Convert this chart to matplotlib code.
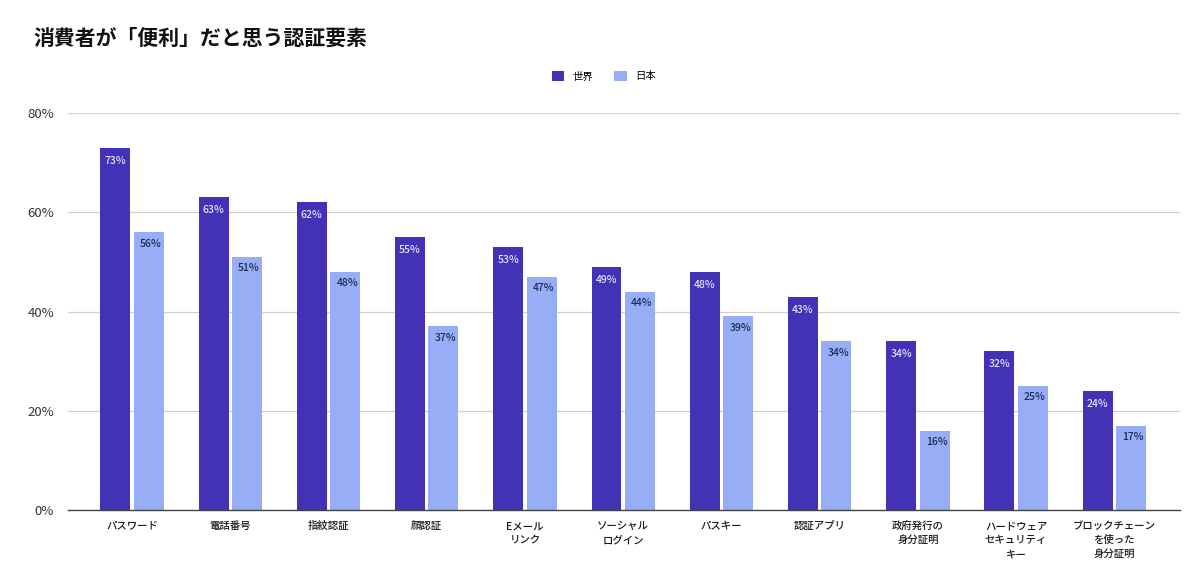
import numpy as np
import matplotlib.pyplot as plt

plt.rcParams['font.family'] = ['Noto Sans CJK JP', 'DejaVu Sans']

# データ
categories = ["パスワード", "電話番号", "指紋認証", "顔認証", "Eメール\nリンク",
              "ソーシャル\nログイン", "パスキー", "認証アプリ", "政府発行の\n身分証明",
              "ハードウェア\nセキュリティ\nキー", "ブロックチェーン\nを使った\n身分証明"]
world = [73, 63, 62, 55, 53, 49, 48, 43, 34, 32, 24]
japan = [56, 51, 48, 37, 47, 44, 39, 34, 16, 25, 17]
series_names = ["世界", "日本"]
yticks = [0, 20, 40, 60, 80]

c_world = "#4331b6"
c_japan = "#97aef6"

fig = plt.figure(figsize=(12, 5.85), dpi=100)
ax = fig.add_axes([0.0567, 0.1282, 0.9267, 0.6786])

x = np.arange(len(categories))
w = 0.305
off = 0.17
b1 = ax.bar(x - off, world, width=w, color=c_world, label=series_names[0], zorder=3)
b2 = ax.bar(x + off, japan, width=w, color=c_japan, label=series_names[1], zorder=3)

for rect, v in zip(b1, world):
    ax.text(rect.get_x() + rect.get_width() / 2, v - 2.6, f"{v}%", ha="center", va="center",
            fontsize=7.5, fontweight="medium", color="#e4e0ff", zorder=4)
for rect, v in zip(b2, japan):
    ax.text(rect.get_x() + rect.get_width() / 2 + 0.02, v - 2.3, f"{v}%", ha="center", va="center",
            fontsize=7.5, fontweight="medium", color="#1e2a55", zorder=4)

ax.set_xlim(-0.652, 10.67)
ax.set_ylim(0, 80)
ax.set_yticks(yticks)
ax.set_yticklabels([f"{t}%" for t in yticks], fontsize=9.5, color="#333333")
ax.set_xticks(x)
ax.set_xticklabels(categories, fontsize=7.5, color="#1a1a1a", linespacing=1.5,
                   fontweight="medium")
ax.tick_params(axis="both", length=0)
ax.tick_params(axis="x", pad=8)
ax.tick_params(axis="y", pad=10)

ax.grid(axis="y", color="#d0d0d0", linewidth=0.9, zorder=0)
for s in ["top", "right", "left"]:
    ax.spines[s].set_visible(False)
ax.spines["bottom"].set_color("#444444")
ax.spines["bottom"].set_linewidth(1.0)
ax.spines["bottom"].set_zorder(5)

fig.text(0.0275, 0.935, "消費者が「便利」だと思う認証要素", fontsize=15, fontweight="bold",
         ha="left", va="center", color="#111111")

fig.legend(loc="center", bbox_to_anchor=(0.503, 0.87), ncol=2, frameon=False,
           fontsize=7.5, handlelength=1.2, handleheight=1.2, columnspacing=2.0,
           handletextpad=0.8)

fig.savefig("out.png", dpi=100, facecolor="white")
